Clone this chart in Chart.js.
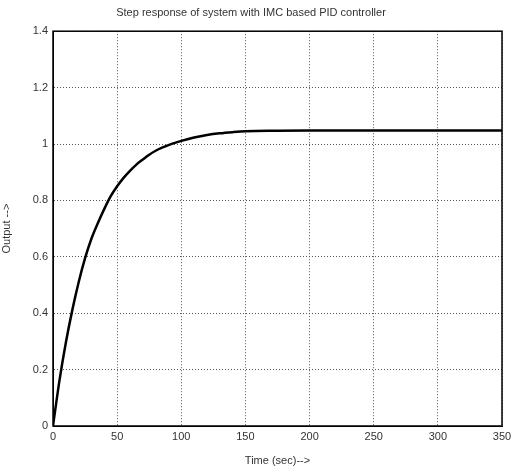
<!DOCTYPE html>
<html>
<head>
<meta charset="utf-8">
<script src="https://cdn.jsdelivr.net/npm/chart.js@4.4.0/dist/chart.umd.min.js"></script>
<style>
    html, body { margin: 0; padding: 0; background: #fff; }
    #wrap { width: 513px; height: 468px; }
</style>
</head>
<body>
<div id="wrap"><canvas id="grafico"></canvas></div>
<script>
// valores
const tempos = [0, 5, 10, 15, 20, 25, 30, 35, 40, 45, 50, 55, 60, 65, 70, 75, 80, 85, 90, 95, 100, 110, 120, 130, 140, 150, 175, 200, 250, 300, 350];
const saida = [0, 0.16, 0.295, 0.41, 0.51, 0.595, 0.665, 0.72, 0.77, 0.815, 0.85, 0.88, 0.905, 0.927, 0.945, 0.962, 0.976, 0.987, 0.996, 1.004, 1.011, 1.023, 1.032, 1.038, 1.042, 1.045, 1.047, 1.048, 1.048, 1.048, 1.048];
const ticksX = [0, 50, 100, 150, 200, 250, 300, 350];
const ticksY = [0, 0.2, 0.4, 0.6, 0.8, 1, 1.2, 1.4];

const pontos = tempos.map((t, i) => ({ x: t, y: saida[i] }));

// moldura preta em volta da área do gráfico (estilo matlab)
const moldura = {
    id: 'moldura',
    afterDraw(chart) {
        let a = chart.chartArea;
        let ctx = chart.ctx;
        ctx.save();
        ctx.strokeStyle = '#000';
        ctx.lineWidth = 1.5;
        ctx.strokeRect(a.left, a.top, a.right - a.left, a.bottom - a.top);
        ctx.restore();
    }
};

let ctx = document.getElementById("grafico").getContext("2d");
window.myChart = new Chart(ctx, {
    type: 'line',
    data: {
        datasets: [{
            label: 'Output',
            data: pontos,
            borderColor: '#000',
            borderWidth: 2.5,
            pointRadius: 0,
            cubicInterpolationMode: 'monotone',
            fill: false
        }]
    },
    options: {
        responsive: true,
        maintainAspectRatio: false,
        animation: false,
        layout: { padding: { left: 0, right: 11, top: 0, bottom: 0 } },
        scales: {
            x: {
                type: 'linear',
                min: 0,
                max: 350,
                afterBuildTicks: axis => { axis.ticks = ticksX.map(v => ({ value: v })); },
                afterFit: axis => {
                    axis.height = 42;
                    axis.paddingLeft = 0;
                    axis.paddingRight = 0;
                },
                grid: {
                    color: '#555',
                    lineWidth: 1,
                    drawTicks: false
                },
                border: { display: true, color: '#000', dash: [1, 2] },
                ticks: {
                    color: '#333',
                    font: { family: 'Liberation Sans', size: 11 },
                    padding: 4,
                    maxRotation: 0
                },
                title: {
                    display: true,
                    text: 'Time (sec)-->',
                    color: '#333',
                    font: { family: 'Liberation Sans', size: 11 },
                    padding: { top: 2, bottom: 0 }
                }
            },
            y: {
                min: 0,
                max: 1.4,
                afterBuildTicks: axis => { axis.ticks = ticksY.map(v => ({ value: v })); },
                afterFit: axis => { axis.width = 53; },
                grid: {
                    color: '#555',
                    lineWidth: 1,
                    drawTicks: false
                },
                border: { display: true, color: '#000', dash: [1, 2] },
                ticks: {
                    color: '#333',
                    font: { family: 'Liberation Sans', size: 11 },
                    padding: 5,
                    callback: v => String(Math.round(v * 10) / 10)
                },
                title: {
                    display: true,
                    text: 'Output -->',
                    color: '#333',
                    font: { family: 'Liberation Sans', size: 11 },
                    padding: { top: 0, bottom: 4 }
                }
            }
        },
        plugins: {
            legend: { display: false },
            tooltip: { enabled: false },
            title: {
                display: true,
                text: 'Step response of system with IMC based PID controller',
                color: '#333',
                font: { family: 'Liberation Sans', size: 11, weight: 'normal' },
                padding: { top: 6, bottom: 12 }
            }
        }
    },
    plugins: [moldura]
});
</script>
</body>
</html>
